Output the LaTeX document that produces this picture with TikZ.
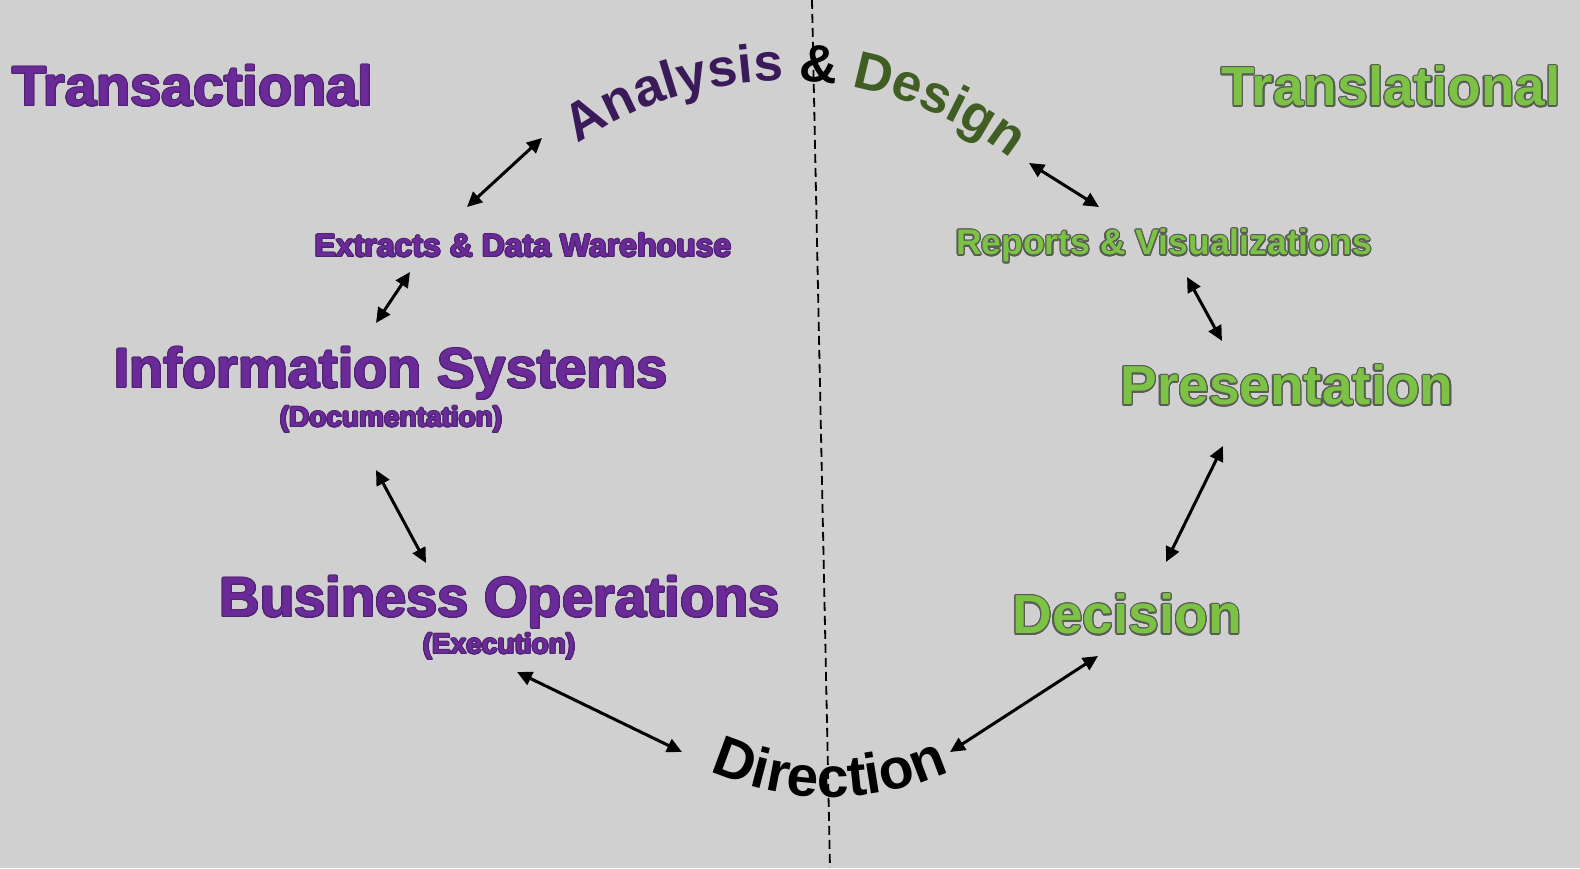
\documentclass[tikz,border=0pt]{standalone}
\usepackage{fontspec}
\setmainfont{Liberation Sans}
\newfontfamily\arcfont{Liberation Sans Bold}
\usepackage[copies]{contour}
\usetikzlibrary{arrows.meta, decorations.text}

\definecolor{bggray}{RGB}{208,208,208}
\definecolor{tpurple}{RGB}{106,42,152}
\definecolor{tpurpedge}{RGB}{80,34,114}
\definecolor{tgreen}{RGB}{124,194,68}
\definecolor{tgreenedge}{RGB}{88,92,84}
\definecolor{adpurple}{RGB}{58,26,88}
\definecolor{adgreen}{RGB}{64,94,36}

\newcommand{\fsz}[1]{\bfseries\fontsize{#1}{#1}\selectfont}
\newcommand{\asz}[1]{\arcfont\fontsize{#1}{#1}\selectfont}
\newcommand{\ptext}[1]{\contourlength{1pt}\contour{tpurpedge}{#1}}
\newcommand{\gtext}[1]{\contourlength{1.3pt}\contour{tgreenedge}{#1}}

\tikzset{
  purptxt/.style={text=tpurple, inner sep=0pt, anchor=base},
  greentxt/.style={text=tgreen, inner sep=0pt, anchor=base},
  cyclearrow/.style={{Triangle[length=15pt,width=14pt]}-{Triangle[length=15pt,width=14pt]}, line width=3pt, black},
}

\begin{document}
\begin{tikzpicture}[x=1pt,y=1pt]
\fill[bggray] (0,0) rectangle (1580,868);
\useasboundingbox (0,0) rectangle (1580,868);

% divider
\coordinate (divtop) at (812,868);\coordinate (divbot) at (830,0);
\draw[dash pattern=on 9pt off 5pt, line width=1.8pt] (divtop) -- (divbot);

% headings
\node[purptxt, font=\fsz{56}] (transact) at (193,762) {\ptext{Transactional}};
\node[greentxt, font=\fsz{55}] (translat) at (1391,762) {\gtext{Translational}};

% left side
\node[purptxt, font=\fsz{32}] (extracts) at (523,611) {\ptext{Extracts \& Data Warehouse}};
\node[purptxt, font=\fsz{56}] (infosys) at (391,480) {\ptext{Information Systems}};
\node[purptxt, font=\fsz{28}] (infodoc) at (391,441) {\ptext{(Documentation)}};
\node[purptxt, font=\fsz{56}] (busops) at (500,251) {\ptext{Business Operations}};
\node[purptxt, font=\fsz{28}] (busexec) at (499,214) {\ptext{(Execution)}};

% right side
\node[greentxt, font=\fsz{35.5}] (reports) at (1164,613) {\gtext{Reports \& Visualizations}};
\node[greentxt, font=\fsz{55}] (present) at (1287,463) {\gtext{Presentation}};
\node[greentxt, font=\fsz{55}] (decision) at (1127,234) {\gtext{Decision}};

% curved titles
\path[decorate, decoration={text along path, text align=center,
  text={|\asz{53}\color{adpurple}|Analysis |\asz{53}\color{black}|{\&} |\asz{53}\color{adgreen}|Design}}]
  (784,418) ++(127:369) arc[start angle=127, end angle=49, radius=369];
\path[decorate, decoration={text along path, text align=center,
  text={|\asz{57}\color{black}|Direction}}]
  (830,362) ++(243:291) arc[start angle=243, end angle=297, radius=291];

% arrow ends
\coordinate (ad-l) at (542,730);\coordinate (ext-t) at (467,661);
\coordinate (ext-b) at (410,596);\coordinate (inf-t) at (376,545);
\coordinate (inf-b) at (376,398);\coordinate (bus-t) at (426,305);
\coordinate (bus-b) at (517,196);\coordinate (dir-l) at (682,116);
\coordinate (dir-r) at (950,116);\coordinate (dec-t) at (1098,212);
\coordinate (dec-b) at (1166,306);\coordinate (pre-b) at (1223,422);
\coordinate (pre-t) at (1222,527);\coordinate (rep-b) at (1187,591);
\coordinate (rep-t) at (1099,661);\coordinate (ad-r) at (1029,705);

\draw[cyclearrow] (ad-l) -- (ext-t);
\draw[cyclearrow] (ext-b) -- (inf-t);
\draw[cyclearrow] (inf-b) -- (bus-t);
\draw[cyclearrow] (bus-b) -- (dir-l);
\draw[cyclearrow] (dir-r) -- (dec-t);
\draw[cyclearrow] (dec-b) -- (pre-b);
\draw[cyclearrow] (pre-t) -- (rep-b);
\draw[cyclearrow] (rep-t) -- (ad-r);
\end{tikzpicture}
\end{document}
